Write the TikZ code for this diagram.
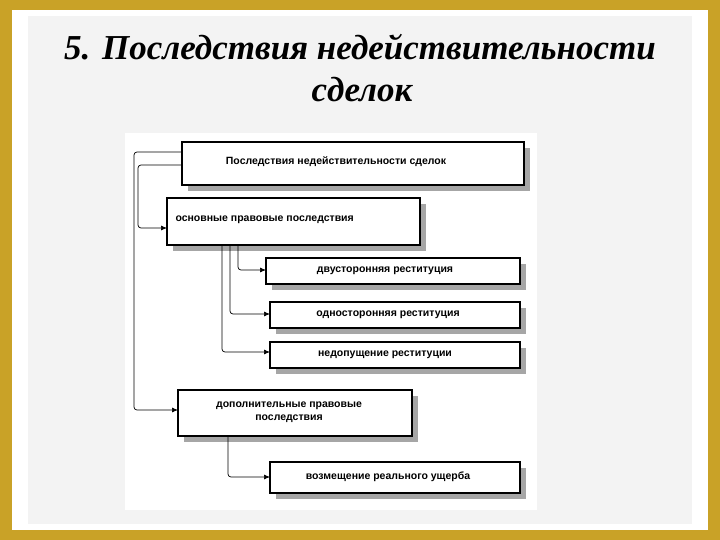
\documentclass[tikz,border=0pt]{standalone}
\usepackage{fontspec}
\setmainfont{Liberation Serif}
\newfontfamily\boxfont{Liberation Sans}
\usetikzlibrary{arrows.meta}
\definecolor{gold}{HTML}{C9A227}
\definecolor{panel}{HTML}{F3F3F3}
\tikzset{
  bx/.style={draw=black, line width=1.2pt, fill=white},
  shd/.style={fill=black!35},
  lbl/.style={font=\boxfont\bfseries\fontsize{10.5}{12.5}\selectfont, align=center},
  conn/.style={line width=0.7pt, -{Latex[length=6pt,width=5pt]}, rounded corners=3pt}
}
\newcommand{\boxat}[5]{% name, x1,y1,x2,y2
  \fill[shd] (#2+6,#3+6) rectangle (#4+6,#5+6);
  \draw[bx] (#2,#3) rectangle (#4,#5);
  \coordinate (#1nw) at (#2,#3);
  \coordinate (#1se) at (#4,#5);
}
\begin{document}
\begin{tikzpicture}[x=1pt,y=-1pt]
\useasboundingbox (0,0) rectangle (720,540);
\fill[gold] (0,0) rectangle (720,540);
\fill[white] (12,10) rectangle (708,530);
\fill[panel] (28,16) rectangle (692,524);
\fill[white] (125,133) rectangle (537,510);
\node[font=\bfseries\itshape\fontsize{35}{40}\selectfont] (t1) at (360,47) {5. Последствия недействительности};
\node[font=\bfseries\itshape\fontsize{35}{40}\selectfont] (t2) at (362,90) {сделок};
\boxat{a}{182}{142}{524}{185}
\boxat{b}{167}{198}{420}{245}
\boxat{c}{266}{258}{520}{284}
\boxat{d}{270}{302}{520}{328}
\boxat{e}{270}{342}{520}{368}
\boxat{f}{178}{390}{412}{436}
\boxat{g}{270}{462}{520}{493}
\node[lbl] (A) at (336,162) {Последствия недействительности сделок};
\node[lbl, anchor=west] (B) at (172,220) {основные правовые последствия};
\node[lbl] (C) at (385,271) {двусторонняя реституция};
\node[lbl] (D) at (388,315) {односторонняя реституция};
\node[lbl] (E) at (385,355) {недопущение реституции};
\node[lbl] (F) at (289,412) {дополнительные правовые\\последствия};
\node[lbl] (G) at (388,477) {возмещение реального ущерба};
\coordinate (a1) at (182,152); \coordinate (a2) at (182,165);
\coordinate (bl) at (167,228); \coordinate (fl) at (178,410);
\draw[conn] (a1) -- (134,152) -- (134,410) -- (fl);
\draw[conn] (a2) -- (138,165) -- (138,228) -- (bl);
\draw[conn] (238,245) -- (238,270) -- (266,270);
\draw[conn] (230,245) -- (230,314) -- (270,314);
\draw[conn] (222,245) -- (222,352) -- (270,352);
\draw[conn] (228,436) -- (228,477) -- (270,477);
\end{tikzpicture}
\end{document}
